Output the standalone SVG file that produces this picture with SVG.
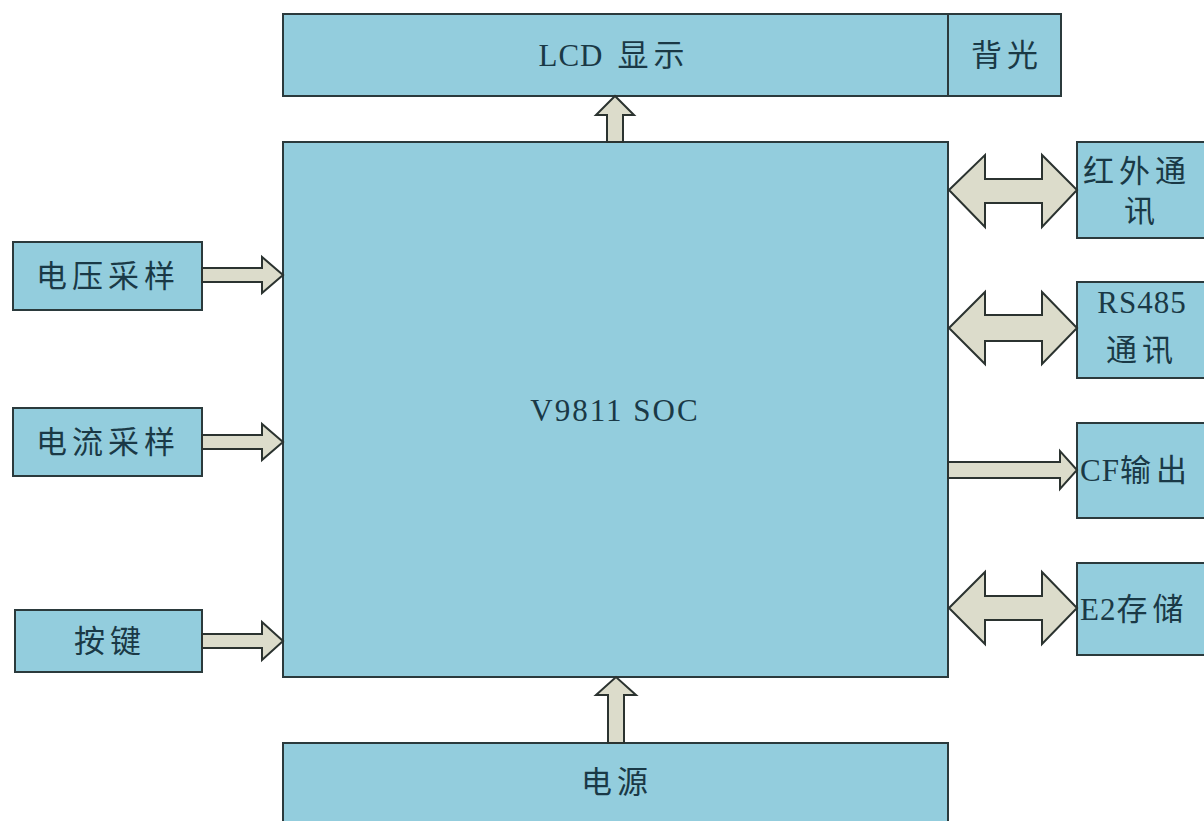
<svg xmlns="http://www.w3.org/2000/svg" width="1204" height="821" viewBox="0 0 1204 821">
<style>
.box{fill:#93CDDD;stroke:#2b3a3c;stroke-width:2}
.arr{fill:#DCDCCB;stroke:#2b3330;stroke-width:2;stroke-linejoin:miter}
.t{font-family:"Liberation Serif","Noto Sans CJK SC",serif;font-size:31px;fill:#1a3946;letter-spacing:5px}
.lat{letter-spacing:1px}
</style>
<rect x="0" y="0" width="1204" height="821" fill="#ffffff"/>
<g id="lcd"><rect class="box" x="283" y="14" width="665" height="82"/><text class="t" x="614" y="66" text-anchor="middle"><tspan class="lat">LCD</tspan><tspan dx="14">显示</tspan></text></g>
<g id="backlight"><rect class="box" x="948" y="14" width="113" height="82"/><text class="t" x="1007" y="66" text-anchor="middle">背光</text></g>
<g id="soc"><rect class="box" x="283" y="142" width="665" height="535"/><text class="t" x="615" y="421" text-anchor="middle" style="letter-spacing:2px">V9811 SOC</text></g>
<g id="power"><rect class="box" x="283" y="743" width="665" height="90"/><text class="t" x="617" y="793" text-anchor="middle">电源</text></g>
<g id="voltage"><rect class="box" x="13" y="242" width="189" height="68"/><text class="t" x="108" y="287" text-anchor="middle">电压采样</text></g>
<g id="current"><rect class="box" x="13" y="408" width="189" height="68"/><text class="t" x="108" y="453" text-anchor="middle">电流采样</text></g>
<g id="key"><rect class="box" x="15" y="610" width="187" height="62"/><text class="t" x="110" y="652" text-anchor="middle">按键</text></g>
<g id="ir"><rect class="box" x="1077" y="142" width="140" height="96"/><text class="t" x="1083" y="182">红外通</text><text class="t" x="1142" y="222" text-anchor="middle">讯</text></g>
<g id="rs485"><rect class="box" x="1077" y="282" width="140" height="96"/><text class="t" x="1142" y="313" text-anchor="middle" style="letter-spacing:1px">RS485</text><text class="t" x="1142" y="361" text-anchor="middle">通讯</text></g>
<g id="cf"><rect class="box" x="1077" y="423" width="140" height="95"/><text class="t" x="1080" y="481"><tspan class="lat">CF</tspan>输出</text></g>
<g id="e2"><rect class="box" x="1077" y="563" width="140" height="92"/><text class="t" x="1080" y="620"><tspan class="lat">E2</tspan>存储</text></g>
<g id="connectors">
<polygon class="arr" points="607,142 607,115 596,115 615,96 634,115 623,115 623,142"/>
<polygon class="arr" points="608,743 608,695 596,695 616,677 636,695 624,695 624,743"/>
<polygon class="arr" points="202,268 262,268 262,257 283,275 262,293 262,282 202,282"/>
<polygon class="arr" points="202,435 262,435 262,424 283,442 262,460 262,449 202,449"/>
<polygon class="arr" points="202,634 262,634 262,622 283,641 262,660 262,648 202,648"/>
<polygon class="arr" points="949,190 985,155 985,179 1042,179 1042,155 1077,190 1042,227 1042,203 985,203 985,227"/>
<polygon class="arr" points="949,328 985,292 985,315 1042,315 1042,292 1077,328 1042,364 1042,341 985,341 985,364"/>
<polygon class="arr" points="949,608 985,572 985,596 1042,596 1042,572 1077,608 1042,644 1042,620 985,620 985,644"/>
<polygon class="arr" points="948,462 1060,462 1060,451 1077,470 1060,489 1060,478 948,478"/>
</g>
</svg>
